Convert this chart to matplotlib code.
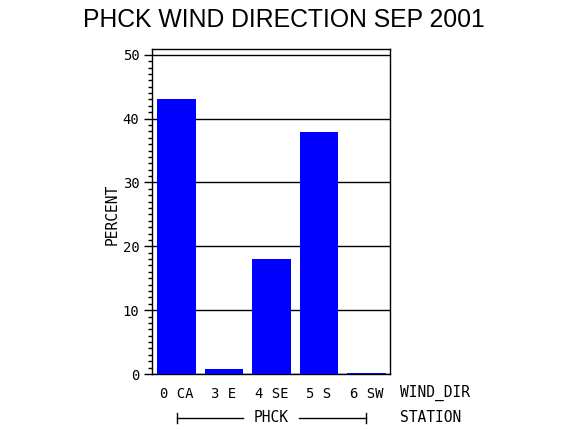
import matplotlib
matplotlib.use("Agg")
import matplotlib.pyplot as plt
from matplotlib.ticker import MultipleLocator

categories = ["0 CA", "3 E", "4 SE", "5 S", "6 SW"]
percent = [43.1, 0.8, 18.0, 37.9, 0.2]
yticks = [0, 10, 20, 30, 40, 50]
station = "PHCK"

W, H = 570, 430
fig = plt.figure(figsize=(W / 100, H / 100), dpi=100)
ax = fig.add_axes([152 / W, 1 - 374 / H, (390 - 152) / W, (374 - 49) / H])

mono = "DejaVu Sans Mono"
x = list(range(len(categories)))
ax.bar(x, percent, width=0.82, color="#0000FF", zorder=3)
ax.set_xlim(-0.516, 4.495)
ax.set_ylim(0, 50.9)
ax.set_yticks(yticks)
ax.set_yticklabels([str(v) for v in yticks], fontfamily=mono, fontsize=10)
ax.yaxis.set_minor_locator(MultipleLocator(1))
ax.tick_params(axis="y", which="major", length=6, width=1, direction="out", pad=3)
ax.tick_params(axis="y", which="minor", length=3, width=1, direction="out")
ax.grid(axis="y", which="major", color="black", linewidth=1, zorder=1)
ax.set_xticks(x)
ax.set_xticklabels(categories, fontfamily=mono, fontsize=10)
ax.tick_params(axis="x", length=0, pad=9)
for s in ax.spines.values():
    s.set_linewidth(1)
    s.set_color("black")

fig.text(112 / W, 1 - 214 / H, "PERCENT", rotation=90, ha="center", va="center",
         fontfamily=mono, fontsize=10.5)

fig.text(284 / W, 1 - 20 / H, "PHCK WIND DIRECTION SEP 2001",
         ha="center", va="center", fontfamily="Liberation Sans", fontsize=17.8)

fig.text(400 / W, 1 - 393 / H, "WIND_DIR", ha="left", va="center",
         fontfamily=mono, fontsize=10.5)
fig.text(400 / W, 1 - 418 / H, "STATION", ha="left", va="center",
         fontfamily=mono, fontsize=10.5)

# station group bracket
yb = 1 - 418 / H
fig.text(271 / W, yb, station, ha="center", va="center", fontfamily=mono, fontsize=10.5)
fig.add_artist(plt.Line2D([177 / W, 243 / W], [yb, yb], color="black", lw=1))
fig.add_artist(plt.Line2D([299 / W, 366 / W], [yb, yb], color="black", lw=1))
fig.add_artist(plt.Line2D([177 / W, 177 / W], [yb - 5 / H, yb + 5 / H], color="black", lw=1))
fig.add_artist(plt.Line2D([366 / W, 366 / W], [yb - 5 / H, yb + 5 / H], color="black", lw=1))

fig.savefig("out.png", dpi=100)
